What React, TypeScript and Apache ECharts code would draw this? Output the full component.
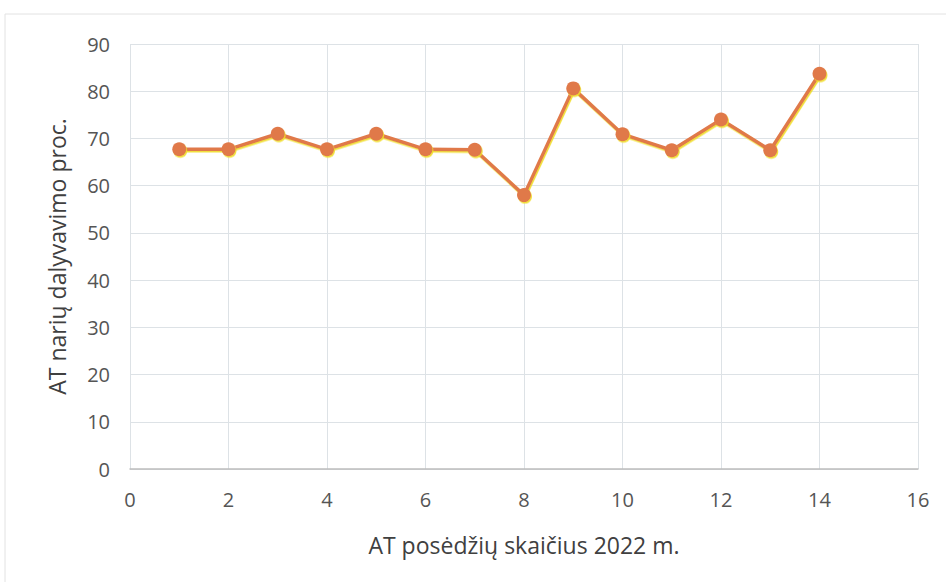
import React, { useEffect, useRef } from "react";
import * as echarts from "echarts";

const sessions = [1, 2, 3, 4, 5, 6, 7, 8, 9, 10, 11, 12, 13, 14];
const attendance = [67.7, 67.7, 71.0, 67.7, 71.0, 67.7, 67.6, 58.0, 80.6, 70.9, 67.5, 74.0, 67.5, 83.7];
const xTitle = "AT posėdžių skaičius 2022 m.";
const yTitle = "AT narių dalyvavimo proc.";

export default function App() {
  const ref = useRef<HTMLDivElement>(null);
  useEffect(() => {
    if (!ref.current) return;
    const chart = echarts.init(ref.current, undefined, { renderer: "svg" });
    const font = "'Open Sans', 'Noto Sans', sans-serif";
    chart.setOption({
      animation: false,
      backgroundColor: "#ffffff",
      grid: { left: 130, right: 28, top: 44, bottom: 113 },
      graphic: [
        {
          type: "rect",
          shape: { x: 5, y: 14, width: 950, height: 600 },
          style: { fill: "none", stroke: "#e2e2e2", lineWidth: 1 },
          silent: true,
        },
      ],
      xAxis: {
        type: "value",
        min: 0,
        max: 16,
        interval: 2,
        name: xTitle,
        nameLocation: "middle",
        nameGap: 64,
        nameTextStyle: { fontSize: 23, color: "#404040", fontFamily: font },
        axisLine: { show: true, lineStyle: { color: "#bdbdbd", width: 1.5 } },
        axisTick: { show: false },
        axisLabel: { fontSize: 20, color: "#555555", margin: 20, fontFamily: font },
        splitLine: { show: true, lineStyle: { color: "#dde2e6", width: 1 } },
      },
      yAxis: {
        type: "value",
        min: 0,
        max: 90,
        interval: 10,
        name: yTitle,
        nameLocation: "middle",
        nameGap: 62,
        nameTextStyle: { fontSize: 23, color: "#404040", fontFamily: font },
        axisLine: { show: false },
        axisTick: { show: false },
        axisLabel: { fontSize: 20, color: "#555555", margin: 20, fontFamily: font },
        splitLine: { show: true, lineStyle: { color: "#dde2e6", width: 1 } },
      },
      series: [
        {
          type: "line",
          data: sessions.map((s, i) => [s, attendance[i]]),
          symbol: "circle",
          symbolSize: 14,
          lineStyle: { color: "#e0794a", width: 3.5, shadowColor: "rgba(240,220,40,0.9)", shadowOffsetX: 1, shadowOffsetY: 1.5 },
          itemStyle: { color: "#e0794a", shadowColor: "rgba(240,220,40,0.9)", shadowOffsetX: 1, shadowOffsetY: 1.5 },
        },
      ],
    });
    return () => chart.dispose();
  }, []);
  return <div ref={ref} style={{ width: 946, height: 582, position: "absolute", left: 0, top: 0 }} />;
}
